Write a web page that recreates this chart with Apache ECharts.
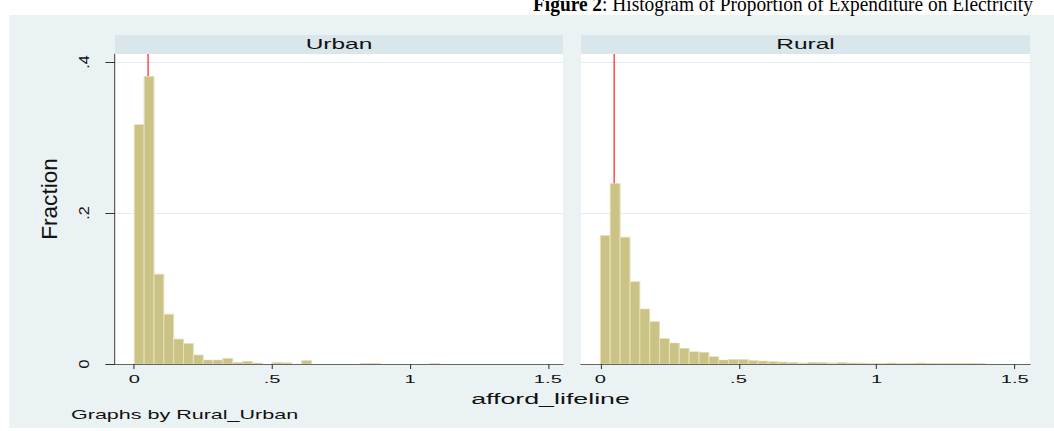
<!DOCTYPE html>
<html><head><meta charset="utf-8">
<script src="https://cdn.jsdelivr.net/npm/echarts@6/dist/echarts.min.js"></script>
<style>
html,body{margin:0;padding:0;overflow:hidden;background:#fff;width:1054px;height:431px;}
#chart{position:absolute;left:0;top:0;width:602px;height:431px;transform:scaleX(1.75083);transform-origin:0 0;}
</style></head><body><div id="chart"></div>
<script>
// ---- data ----
const binWidth = 1 / 28;                 // histogram bin width (0.5/14)
const urbanFraction = [0.317, 0.381, 0.119, 0.066, 0.033, 0.027, 0.012, 0.0053, 0.0053, 0.0075,
  0.0022, 0.0035, 0.0013, 0, 0.0022, 0.0015, 0, 0.0045, 0, 0,
  0, 0, 0, 0.001, 0.001, 0, 0, 0, 0, 0, 0.001];
const ruralFraction = [0.170, 0.239, 0.168, 0.109, 0.0728, 0.056, 0.0336, 0.0278, 0.0208, 0.0163,
  0.0155, 0.0097, 0.0053, 0.006, 0.006, 0.0045, 0.004, 0.003, 0.0026, 0.0022,
  0.0012, 0.0024, 0.0018, 0.0012, 0.002, 0.0014, 0.0012, 0.0006, 0.0006, 0.0014,
  0.0006, 0.001, 0.0014, 0.001, 0.0006, 0.001, 0.0006, 0.001, 0.0006];
const panelNames = ['Urban', 'Rural'];
const xTickValues = [0, 0.5, 1, 1.5];
const xTickLabels = ['0', '.5', '1', '1.5'];
const yTickValues = [0, 0.2, 0.4];
const yTickLabels = ['0', '.2', '.4'];
const refLineX = 0.05;
const xTitle = 'afford_lifeline';
const yTitle = 'Fraction';
const noteText = 'Graphs by Rural_Urban';
const captionBold = 'Figure 2';
const captionRest = ': Histogram of Proportion of Expenditure on Electricity';

// ---- layout (final pixel x is divided by the horizontal stretch) ----
const S = 1054 / 602;
const px = X => X / S;
const xMin = -0.07, xMax = 1.555, yMax = 0.4106;
const panelsX = [[115, 563], [581, 1030]];
const plotTop = 54, plotBottom = 364;
const barFill = '#cbc386', barEdge = '#e4e0b8';

const chart = echarts.init(document.getElementById('chart'), null, {renderer: 'svg'});

const grids = panelsX.map(p => ({
  left: px(p[0]), width: px(p[1]) - px(p[0]), top: plotTop, height: plotBottom - plotTop,
  show: true, backgroundColor: '#ffffff', borderWidth: 0, containLabel: false
}));

const xAxes = panelsX.map((p, i) => ({
  type: 'value', gridIndex: i, min: xMin, max: xMax,
  axisLine: {show: true, onZero: false, lineStyle: {color: '#666', width: 1}},
  axisTick: {show: true, customValues: xTickValues, length: 5, lineStyle: {color: '#333', width: 0.6}},
  axisLabel: {
    customValues: xTickValues,
    formatter: v => { const k = xTickValues.findIndex(t => Math.abs(t - v) < 1e-9); return k >= 0 ? xTickLabels[k] : ''; },
    fontFamily: 'Liberation Sans', fontSize: 11.5, color: '#111', margin: 8.5
  },
  splitLine: {show: false}
}));

const yAxes = panelsX.map((p, i) => ({
  type: 'value', gridIndex: i, min: 0, max: yMax, interval: 0.2,
  axisLine: {show: i === 0, onZero: false, lineStyle: {color: '#444', width: 0.6}},
  axisTick: {show: i === 0, customValues: yTickValues, length: 5.5, lineStyle: {color: '#333', width: 1}},
  axisLabel: {show: false},
  splitLine: {show: true, lineStyle: {color: '#e5edef', width: 1}}
}));

function histSeries(values, idx) {
  return {
    type: 'custom', xAxisIndex: idx, yAxisIndex: idx, z: 3, clip: true, silent: true,
    data: values.map((v, i) => [i * binWidth, (i + 1) * binWidth, v]),
    encode: {x: [0, 1], y: 2},
    renderItem: (params, api) => {
      const v = api.value(2);
      if (!(v > 0)) return null;
      const a = api.coord([api.value(0), v]);
      const b = api.coord([api.value(1), 0]);
      return {type: 'rect', shape: {x: a[0], y: a[1], width: b[0] - a[0], height: b[1] - a[1]},
        style: {fill: barFill, stroke: barEdge, lineWidth: 0.6}};
    }
  };
}
function refSeries(idx) {
  return {
    type: 'line', xAxisIndex: idx, yAxisIndex: idx, z: 1, silent: true, symbol: 'none',
    data: [[refLineX, 0], [refLineX, yMax]],
    lineStyle: {color: '#ff0000', width: 0.6}
  };
}

const baseGraphics = [
  {type: 'rect', z: -10, silent: true, shape: {x: px(9.5), y: 15, width: px(1054) - px(9.5) + 2, height: 413}, style: {fill: '#eaf2f3'}},
  {type: 'text', z: 5, x: px(533), y: 3.5, scaleX: 0.88 / S, silent: true,
    style: {text: '{b|' + captionBold + '}' + captionRest, fontFamily: 'Liberation Serif', fontSize: 22, fill: '#000',
      align: 'left', verticalAlign: 'middle',
      rich: {b: {fontWeight: 'bold', fontFamily: 'Liberation Serif', fontSize: 22, fill: '#000'}}}},
  {type: 'text', z: 5, x: px(50), y: 199, rotation: Math.PI / 2, scaleX: 1.46, scaleY: 0.8, silent: true,
    style: {text: yTitle, fontFamily: 'Liberation Sans', fontSize: 15.5, fill: '#111', align: 'center', verticalAlign: 'middle'}},
  {type: 'text', z: 5, x: px(550.5), y: 398.5, silent: true,
    style: {text: xTitle, fontFamily: 'Liberation Sans', fontSize: 15.3, fill: '#111', align: 'center', verticalAlign: 'middle'}},
  {type: 'text', z: 5, x: px(71), y: 415, silent: true,
    style: {text: noteText, fontFamily: 'Liberation Sans', fontSize: 12.3, fill: '#111', align: 'left', verticalAlign: 'middle'}}
];
panelsX.forEach((p, i) => {
  baseGraphics.push({type: 'rect', z: 2, silent: true, shape: {x: px(p[0]), y: 35, width: px(p[1]) - px(p[0]), height: plotTop - 35}, style: {fill: '#d9e6eb'}});
  baseGraphics.push({type: 'text', z: 5, silent: true, x: (px(p[0]) + px(p[1])) / 2, y: 44.5,
    style: {text: panelNames[i], fontFamily: 'Liberation Sans', fontSize: 14, fill: '#111', align: 'center', verticalAlign: 'middle'}});
});

chart.setOption({
  animation: false,
  backgroundColor: '#ffffff',
  grid: grids,
  xAxis: xAxes,
  yAxis: yAxes,
  series: [histSeries(urbanFraction, 0), histSeries(ruralFraction, 1), refSeries(0), refSeries(1)],
  graphic: baseGraphics
});

// y tick labels (rotated) placed through the y axis scale
const allGraphics = baseGraphics.slice();
yTickValues.forEach((v, k) => {
  const y = chart.convertToPixel({yAxisIndex: 0}, v);
  allGraphics.push({type: 'text', z: 5, silent: true, x: px(84), y: y, rotation: Math.PI / 2, scaleX: 1.4, scaleY: 0.7,
    style: {text: yTickLabels[k], fontFamily: 'Liberation Sans', fontSize: 11.5, fill: '#111', align: 'center', verticalAlign: 'middle'}});
});
chart.setOption({graphic: allGraphics});
</script></body></html>
